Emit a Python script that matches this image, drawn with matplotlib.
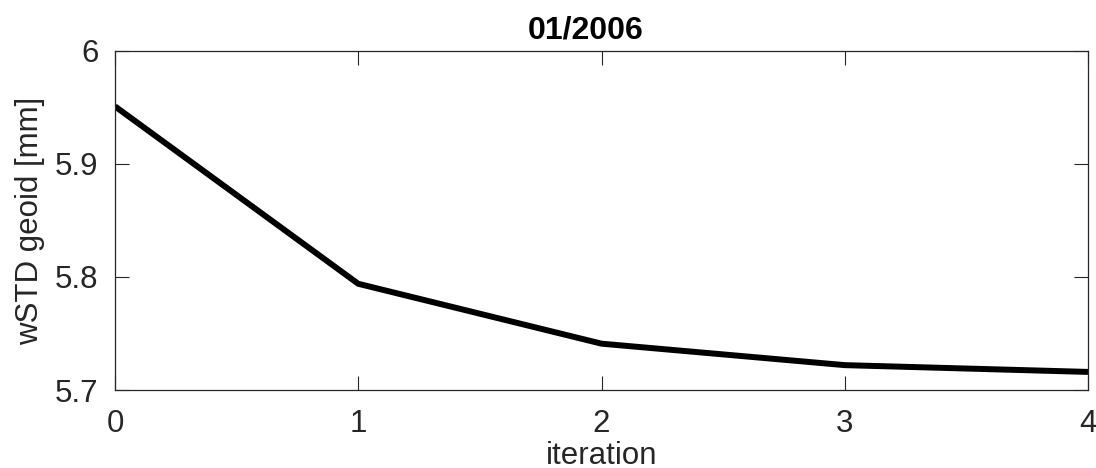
import matplotlib
matplotlib.use("Agg")
import matplotlib.pyplot as plt

plt.rcParams['font.family'] = ['Liberation Sans', 'DejaVu Sans']

iterations = [0, 1, 2, 3, 4]
wstd = [5.951, 5.794, 5.741, 5.722, 5.716]
xticks = [0, 1, 2, 3, 4]
yticks = [5.7, 5.8, 5.9, 6.0]
yticklabels = ['5.7', '5.8', '5.9', '6']

fig = plt.figure(figsize=(10.96, 4.68), dpi=100)
ax = fig.add_axes([115/1096, 1-390/468, (1088-115)/1096, (390-51)/468])
ax.plot(iterations, wstd, color='black', linewidth=4.3, solid_capstyle='butt')
ax.set_xlim(0, 4)
ax.set_ylim(5.7, 6.0)
ax.set_xticks(xticks)
ax.set_xticklabels([str(t) for t in xticks])
ax.set_yticks(yticks)
ax.set_yticklabels(yticklabels)
ax.tick_params(direction='in', top=True, right=True, labelsize=22.5, length=10,
               width=0.8, colors='#262626', labelcolor='#262626')
ax.tick_params(axis='x', pad=14)
ax.tick_params(axis='y', pad=12)
for s in ax.spines.values():
    s.set_linewidth(0.9)
    s.set_color('#262626')
ax.set_xlabel('iteration', fontsize=22.5, color='#262626', labelpad=1)
ax.set_ylabel('wSTD geoid [mm]', fontsize=22.5, color='#262626', labelpad=7)
ax.set_title('01/2006', fontsize=23, fontweight='bold', pad=9, x=0.484)
fig.savefig('out.png', dpi=100)
